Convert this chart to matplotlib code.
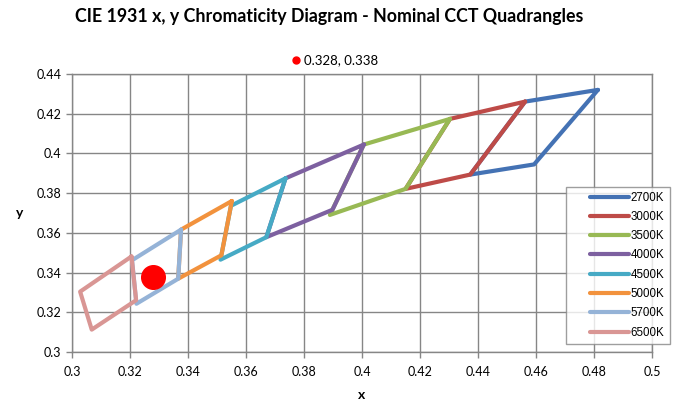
"""CIE 1931 chromaticity diagram with nominal CCT quadrangles."""

import matplotlib
matplotlib.use("Agg")
import matplotlib.pyplot as plt
from matplotlib.legend_handler import HandlerLine2D
from matplotlib.lines import Line2D

# ANSI C78.377 quadrangle corners (closed polygons)
cct_names = ["2700K", "3000K", "3500K", "4000K", "4500K", "5000K", "5700K", "6500K"]
quad_x = [
    [0.4813, 0.4562, 0.4373, 0.4593, 0.4813],
    [0.4562, 0.4303, 0.4150, 0.4373, 0.4562],
    [0.4303, 0.4006, 0.3889, 0.4150, 0.4303],
    [0.4006, 0.3736, 0.3670, 0.3898, 0.4006],
    [0.3736, 0.3548, 0.3512, 0.3670, 0.3736],
    [0.3551, 0.3376, 0.3366, 0.3515, 0.3551],
    [0.3376, 0.3207, 0.3222, 0.3366, 0.3376],
    [0.3205, 0.3028, 0.3068, 0.3221, 0.3205],
]
quad_y = [
    [0.4319, 0.4260, 0.3893, 0.3944, 0.4319],
    [0.4260, 0.4173, 0.3821, 0.3893, 0.4260],
    [0.4173, 0.4044, 0.3690, 0.3821, 0.4173],
    [0.4044, 0.3874, 0.3578, 0.3716, 0.4044],
    [0.3874, 0.3736, 0.3465, 0.3578, 0.3874],
    [0.3760, 0.3616, 0.3369, 0.3487, 0.3760],
    [0.3616, 0.3462, 0.3243, 0.3369, 0.3616],
    [0.3481, 0.3304, 0.3113, 0.3261, 0.3481],
]
colors = ["#4472B4", "#BE4B48", "#98B954", "#7D60A0", "#46AAC5", "#F2923D", "#95B3D7", "#D99694"]

point_x = 0.328
point_y = 0.338
point_label = "0.328, 0.338"


class IndentedLine(HandlerLine2D):
    """Legend line that leaves an empty gap on its left, like Excel."""

    def get_xdata(self, legend, xdescent, ydescent, width, height, fontsize):
        x = [-xdescent + 0.33 * width, -xdescent + width]
        return x, x


plt.rcParams["font.family"] = ["Lato", "DejaVu Sans"]

fig = plt.figure(figsize=(6.73, 4.01), dpi=100)
ax = fig.add_axes([0.107, 0.122, 0.862, 0.694])

for name, xs, ys, c in zip(cct_names, quad_x, quad_y, colors):
    ax.plot(xs, ys, color=c, lw=3.0, label=name, solid_joinstyle="round",
            solid_capstyle="round", zorder=3)

ax.plot([point_x], [point_y], "o", color="#FF0000", ms=17, zorder=4)

ax.set_xlim(0.3, 0.5)
ax.set_ylim(0.3, 0.44)
xt = [round(0.3 + 0.02 * i, 2) for i in range(11)]
yt = [round(0.3 + 0.02 * i, 2) for i in range(8)]
ax.set_xticks(xt)
ax.set_yticks(yt)
ax.set_xticklabels([f"{v:g}" for v in xt])
ax.set_yticklabels([f"{v:g}" for v in yt])
ax.tick_params(labelsize=9, length=4, color="#868686", width=1, direction="out")
ax.tick_params(axis="x", pad=6)
ax.grid(True, color="#868686", lw=1)
ax.set_axisbelow(True)
for s in ax.spines.values():
    s.set_color("#868686")
    s.set_linewidth(1)

ax.set_xlabel("x", fontsize=10, fontweight="bold", labelpad=8)
ax.set_ylabel("y", fontsize=10, fontweight="bold", rotation=0, labelpad=12,
              va="center")

fig.suptitle("CIE 1931 x, y Chromaticity Diagram - Nominal CCT Quadrangles",
             x=0.489, y=0.98, fontsize=12.8, fontweight="bold")

handles, labels = ax.get_legend_handles_labels()
leg = ax.legend(handles, labels, loc="lower left", bbox_to_anchor=(0.852, 0.03),
                prop={"family": "Liberation Sans", "size": 8.3},
                frameon=True, fancybox=False, handlelength=5.0, handletextpad=0.15,
                labelspacing=0.63, borderpad=0.45, borderaxespad=0,
                handler_map={Line2D: IndentedLine()})
leg.get_frame().set_edgecolor("#868686")
leg.get_frame().set_linewidth(1)
leg.set_zorder(5)

# point legend above the plot
top = [Line2D([], [], ls="none", marker="o", color="#FF0000", ms=5)]
fig.legend(top, [point_label], loc="center", bbox_to_anchor=(0.497, 0.849),
           frameon=False, fontsize=9.5, handlelength=0.8, handletextpad=0.2)

fig.savefig("out.png", dpi=100)
